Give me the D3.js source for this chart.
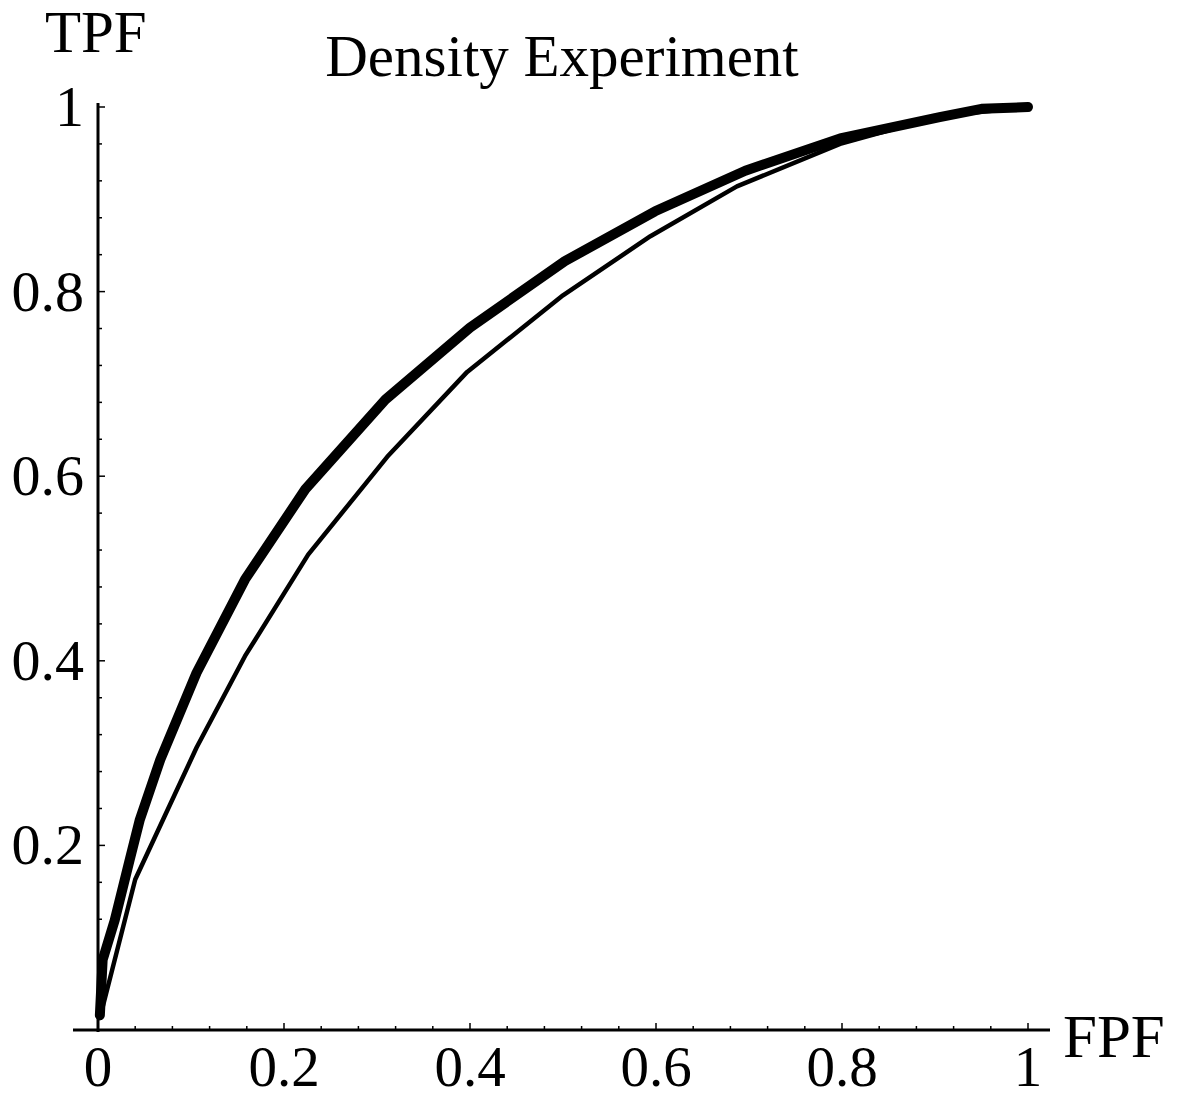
<!DOCTYPE html>
<html>
<head>
<meta charset="utf-8">
<script src="https://cdn.jsdelivr.net/npm/d3@7"></script>
<style>
  html, body { margin: 0; padding: 0; background: #fff; }
  svg text { font-family: "Liberation Serif", "Times New Roman", serif; fill: #000; }
</style>
</head>
<body>
<svg id="chart" width="1182" height="1099"></svg>
<script>
// ---- data ----
const title = "Density Experiment";
const xLabel = "FPF";
const yLabel = "TPF";
const majorTicks = [0, 0.2, 0.4, 0.6, 0.8, 1];
const majorTickLabels = ["0", "0.2", "0.4", "0.6", "0.8", "1"];

// thick curve (upper ROC)
const thickFPF = [0.002, 0.005, 0.018, 0.034, 0.045, 0.067, 0.106, 0.158, 0.223, 0.309, 0.400, 0.502, 0.599, 0.696, 0.798, 0.905, 0.950, 1.000];
const thickTPF = [0.016, 0.076, 0.119, 0.184, 0.228, 0.293, 0.387, 0.488, 0.586, 0.683, 0.761, 0.833, 0.887, 0.931, 0.966, 0.989, 0.998, 1.000];

// thin curve (lower ROC)
const thinFPF = [0.002, 0.020, 0.040, 0.070, 0.106, 0.158, 0.226, 0.311, 0.397, 0.500, 0.594, 0.687, 0.798, 0.905, 1.000];
const thinTPF = [0.013, 0.084, 0.163, 0.228, 0.306, 0.405, 0.515, 0.621, 0.713, 0.796, 0.860, 0.914, 0.960, 0.990, 1.000];

// ---- layout ----
const svg = d3.select("#chart");
const x = d3.scaleLinear().domain([0, 1]).range([98, 1028]);
const y = d3.scaleLinear().domain([0, 1]).range([1030, 107]);

const minorTicks = d3.range(0, 1.0001, 0.04).map(v => +v.toFixed(2));
const isMajor = d => majorTicks.some(m => Math.abs(m - d) < 1e-6);

// x axis line
svg.append("line")
  .attr("x1", 73).attr("x2", 1050)
  .attr("y1", y(0)).attr("y2", y(0))
  .attr("stroke", "#000").attr("stroke-width", 3);

// y axis line
svg.append("line")
  .attr("x1", x(0)).attr("x2", x(0))
  .attr("y1", 103).attr("y2", y(0) + 2)
  .attr("stroke", "#000").attr("stroke-width", 3);

// x ticks (upward)
svg.append("g").selectAll("line").data(minorTicks).join("line")
  .attr("x1", d => x(d)).attr("x2", d => x(d))
  .attr("y1", y(0))
  .attr("y2", d => y(0) - (isMajor(d) ? 7 : 4))
  .attr("stroke", "#000").attr("stroke-width", 1.5);

// y ticks (rightward)
svg.append("g").selectAll("line").data(minorTicks).join("line")
  .attr("y1", d => y(d)).attr("y2", d => y(d))
  .attr("x1", x(0))
  .attr("x2", d => x(0) + (isMajor(d) ? 7 : 4))
  .attr("stroke", "#000").attr("stroke-width", 1.5);

// x tick labels
svg.append("g").selectAll("text").data(majorTicks).join("text")
  .attr("x", d => x(d))
  .attr("y", 1086)
  .attr("text-anchor", "middle")
  .attr("font-size", 57)
  .text((d, i) => majorTickLabels[i]);

// y tick labels (skip 0)
svg.append("g").selectAll("text").data(majorTicks.slice(1)).join("text")
  .attr("x", 84)
  .attr("y", d => y(d) + 19)
  .attr("text-anchor", "end")
  .attr("font-size", 58)
  .text((d, i) => majorTickLabels[i + 1]);

// axis labels
svg.append("text").attr("x", 1063).attr("y", 1057)
  .attr("font-size", 61).text(xLabel);
svg.append("text").attr("x", 45).attr("y", 52)
  .attr("font-size", 59).text(yLabel);

// title
svg.append("text").attr("x", 562).attr("y", 76)
  .attr("text-anchor", "middle")
  .attr("font-size", 59).text(title);

// curves
const line = d3.line().x(d => x(d[0])).y(d => y(d[1])).curve(d3.curveLinear);
const thickData = thickFPF.map((v, i) => [v, thickTPF[i]]);
const thinData = thinFPF.map((v, i) => [v, thinTPF[i]]);

svg.append("path").datum(thinData)
  .attr("d", line)
  .attr("fill", "none").attr("stroke", "#000")
  .attr("stroke-width", 4.5)
  .attr("stroke-linejoin", "round").attr("stroke-linecap", "round");

svg.append("path").datum(thickData)
  .attr("d", line)
  .attr("fill", "none").attr("stroke", "#000")
  .attr("stroke-width", 10)
  .attr("stroke-linejoin", "round").attr("stroke-linecap", "round");
</script>
</body>
</html>
